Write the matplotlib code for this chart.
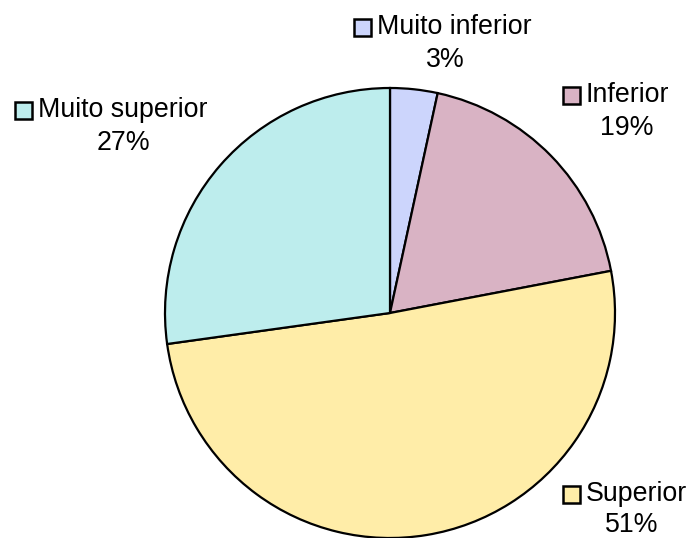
import matplotlib
matplotlib.use("Agg")
import matplotlib.pyplot as plt
from matplotlib.patches import Rectangle

categories = ["Muito inferior", "Inferior", "Superior", "Muito superior"]
values = [3.4, 18.6, 50.8, 27.2]
colors = ["#CCD5FC", "#D9B3C4", "#FFEDA8", "#BDEDED"]

plt.rcParams['font.family'] = ['Liberation Sans', 'DejaVu Sans']

H = 538
fig = plt.figure(figsize=(6.88, 5.38), dpi=100)
ax = fig.add_axes([0, 0, 1, 1])

ax.pie(values, colors=colors, startangle=90, counterclock=False,
       center=(390, H - 313), radius=225,
       wedgeprops=dict(edgecolor='black', linewidth=1.6))
ax.set_xlim(0, 688)
ax.set_ylim(0, H)
ax.set_aspect('equal')
ax.axis('off')

# label anchors in pixels from top-left: (square x, line1 y, percentage center x, line2 y)
label_pos = {
    "Muito inferior": (354, 27, 445, 60),
    "Inferior": (563, 95, 627, 128),
    "Superior": (563, 494, 632, 525),
    "Muito superior": (15, 110, 123, 143),
}
fs = 19.3
for cat, val, col in zip(categories, values, colors):
    sx, y1, px, y2 = label_pos[cat]
    ax.add_patch(Rectangle((sx, H - y1 - 8.5), 17, 17, facecolor=col, edgecolor='black',
                           linewidth=1.8, zorder=5))
    ax.text(sx + 23, H - y1, cat, fontsize=fs, ha='left', va='center', zorder=6)
    ax.text(px, H - y2, f"{val:.0f}%", fontsize=fs, ha='center', va='center', zorder=6)

fig.savefig("out.png", dpi=100)
